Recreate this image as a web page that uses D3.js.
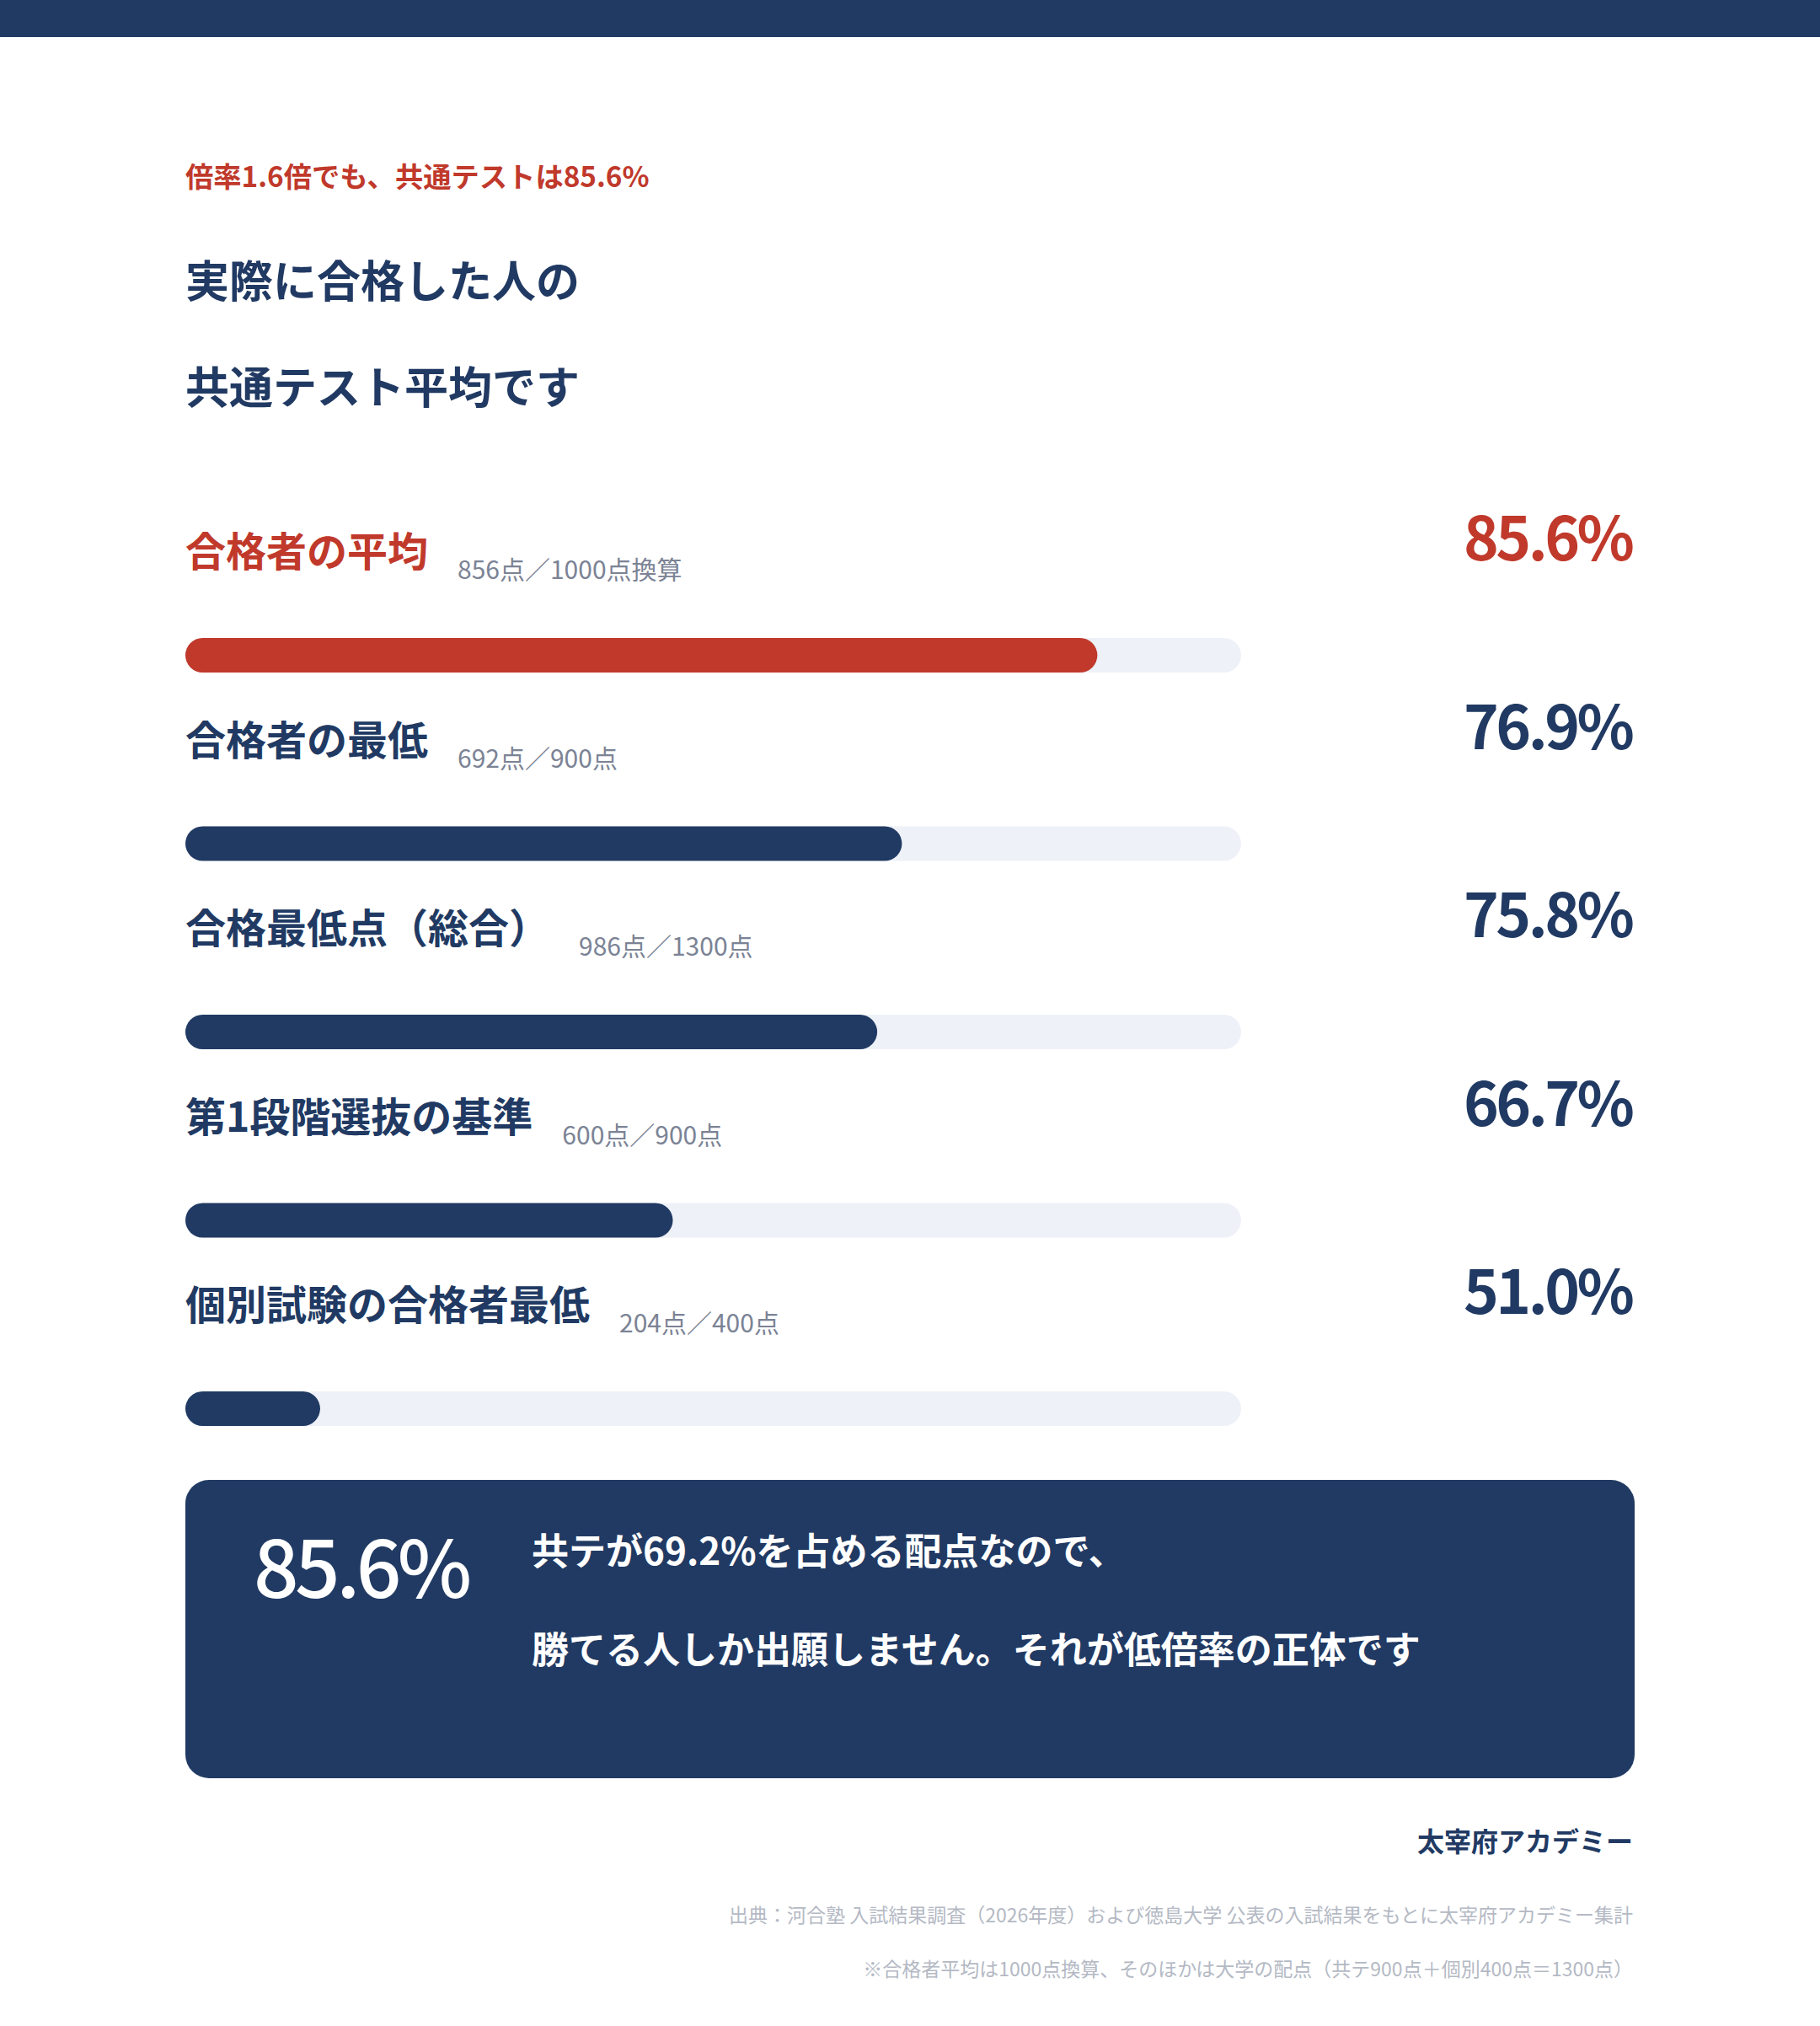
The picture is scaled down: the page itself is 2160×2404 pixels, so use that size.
<!DOCTYPE html>
<html lang="ja">
<head>
<meta charset="utf-8">
<script src="https://cdn.jsdelivr.net/npm/d3@7"></script>
<style>
  html, body { margin: 0; padding: 0; background: #fff; }
  svg { display: block; font-family: "Noto Sans CJK JP", "Noto Sans", sans-serif; }
</style>
</head>
<body>
<svg id="chart" width="2160" height="2404"></svg>
<script>
(function() {
    'use strict';

    // chart data
    const labels = ['合格者の平均', '合格者の最低', '合格最低点（総合）', '第1段階選抜の基準', '個別試験の合格者最低'];
    const notes = ['856点／1000点換算', '692点／900点', '986点／1300点', '600点／900点', '204点／400点'];
    const values = [85.6, 76.9, 75.8, 66.7, 51.0];
    const highlight = '合格者の平均';

    const kicker = '倍率1.6倍でも、共通テストは85.6%';
    const titleLines = ['実際に合格した人の', '共通テスト平均です'];
    const calloutValue = '85.6%';
    const calloutLines = ['共テが69.2%を占める配点なので、', '勝てる人しか出願しません。それが低倍率の正体です'];
    const brand = '太宰府アカデミー';
    const sourceLines = [
        '出典：河合塾 入試結果調査（2026年度）および徳島大学 公表の入試結果をもとに太宰府アカデミー集計',
        '※合格者平均は1000点換算、そのほかは大学の配点（共テ900点＋個別400点＝1300点）'
    ];

    const navy = '#213A63';
    const red = '#C0392B';
    const track = '#EEF1F8';
    const grey = '#7B8395';
    const light = '#B4B9C4';

    const W = 2160;
    const left = 220, right = 1938;
    const svg = d3.select('#chart');

    // top band
    svg.append('rect')
        .attr('x', 0).attr('y', 0)
        .attr('width', W).attr('height', 44)
        .attr('fill', navy);

    // header
    svg.append('text')
        .attr('x', left).attr('y', 222)
        .attr('fill', red)
        .style('font-size', '33.3px')
        .style('font-weight', 700)
        .text(kicker);

    svg.selectAll('text.title')
        .data(titleLines)
        .enter()
        .append('text')
        .attr('class', 'title')
        .attr('x', left)
        .attr('y', (d, i) => 353 + i * 126)
        .attr('fill', navy)
        .style('font-size', '52px')
        .style('font-weight', 700)
        .text(d => d);

    // rows
    const rows = labels.map((d, i) => ({ label: d, note: notes[i], value: values[i] }));

    const y = d3.scaleBand()
        .domain(labels)
        .range([601, 601 + labels.length * 223.5])
        .padding(0);

    const x = d3.scaleLinear()
        .domain([45, 92])
        .range([left, 1473]);

    const barH = 41;

    const row = svg.append('g')
        .selectAll('g')
        .data(rows)
        .enter()
        .append('g')
        .attr('transform', d => `translate(0,${y(d.label)})`);

    row.append('text')
        .attr('class', 'label')
        .attr('x', left)
        .attr('y', 71)
        .attr('fill', d => d.label === highlight ? red : navy)
        .style('font-size', '48px')
        .style('font-weight', 700)
        .text(d => d.label);

    row.append('text')
        .attr('x', function() {
            const lbl = d3.select(this.parentNode).select('text.label').node();
            return left + lbl.getComputedTextLength() + 35;
        })
        .attr('y', 86)
        .attr('fill', grey)
        .style('font-size', '30px')
        .style('font-weight', 400)
        .text(d => d.note);

    // big percentages, slightly tightened
    row.append('text')
        .attr('x', right - 1.5)
        .attr('y', 64)
        .attr('text-anchor', 'end')
        .attr('fill', d => d.label === highlight ? red : navy)
        .style('font-size', '71px')
        .style('font-weight', 700)
        .style('letter-spacing', '-3.5px')
        .text(d => d.value.toFixed(1) + '%');

    row.append('rect')
        .attr('x', x.range()[0])
        .attr('y', 156)
        .attr('width', x.range()[1] - x.range()[0])
        .attr('height', barH)
        .attr('rx', barH / 2)
        .attr('fill', track);

    row.append('rect')
        .attr('x', x.range()[0])
        .attr('y', 156)
        .attr('width', d => x(d.value) - x.range()[0])
        .attr('height', barH)
        .attr('rx', barH / 2)
        .attr('fill', d => d.label === highlight ? red : navy);

    // callout box
    const box = svg.append('g');
    box.append('rect')
        .attr('x', left).attr('y', 1756)
        .attr('width', 1720).attr('height', 354)
        .attr('rx', 28)
        .attr('fill', navy);

    box.append('text')
        .attr('x', 301).attr('y', 1896)
        .attr('fill', '#fff')
        .style('font-size', '94px')
        .style('font-weight', 500)
        .style('letter-spacing', '-4.5px')
        .text(calloutValue);

    box.selectAll('text.line')
        .data(calloutLines)
        .enter()
        .append('text')
        .attr('class', 'line')
        .attr('x', 631)
        .attr('y', (d, i) => 1857 + i * 117)
        .attr('fill', '#fff')
        .style('font-size', '44px')
        .style('font-weight', 700)
        .text(d => d);

    // footer
    svg.append('text')
        .attr('x', right).attr('y', 2197)
        .attr('text-anchor', 'end')
        .attr('fill', navy)
        .style('font-size', '32px')
        .style('font-weight', 700)
        .text(brand);

    svg.selectAll('text.source')
        .data(sourceLines)
        .enter()
        .append('text')
        .attr('class', 'source')
        .attr('x', right)
        .attr('y', (d, i) => 2281 + i * 64)
        .attr('text-anchor', 'end')
        .attr('fill', light)
        .style('font-size', '23px')
        .style('font-weight', 400)
        .text(d => d);
})();
</script>
</body>
</html>
